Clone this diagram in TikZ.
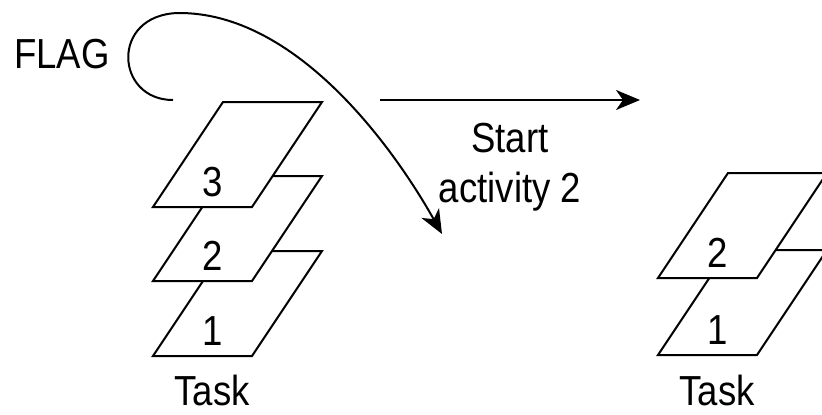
\documentclass[tikz,border=0pt]{standalone}
\usepackage{fontspec}
\setmainfont{Liberation Sans}[FakeStretch=0.87]
\usetikzlibrary{arrows.meta}
\begin{document}
\begin{tikzpicture}[x=1pt,y=-1pt,
    sheet/.style={draw, line width=2pt, fill=white},
    txt/.style={font=\fontsize{42}{50}\selectfont, inner sep=0pt, anchor=base},
    arr/.style={line width=2pt, -{Stealth[length=24pt,width=20pt,inset=7pt]}}]
  \clip (0,0) rectangle (822,415);
  % left stack of tasks
  \foreach \n/\b in {1/356, 2/281, 3/207}{
    \draw[sheet] (153,\b) -- ++(99,0) -- ++(70,-105) -- ++(-99,0) -- cycle;
    \node[txt] (l\n) at (213,\b-11) {\n};
  }
  \node[txt] (taskL) at (212,405) {Task};
  % right stack of tasks
  \foreach \n/\b in {1/355, 2/278}{
    \draw[sheet] (658,\b) -- ++(99,0) -- ++(70,-105) -- ++(-99,0) -- cycle;
    \node[txt] (r\n) at (718,\b-11) {\n};
  }
  \node[txt] (taskR) at (717,405) {Task};
  % flag
  \node[txt] (flag) at (62,68) {FLAG};
  \coordinate (flagTail) at (173,100);
  \coordinate (flagTip) at (442,234);
  \draw[arr] (flagTail) .. controls (115,100) and (110,15) .. (178,13)
    .. controls (295,12) and (392,145) .. (flagTip);
  % start activity 2
  \coordinate (go) at (380,100);
  \coordinate (goEnd) at (640,100);
  \draw[arr] (go) -- (goEnd);
  \node[txt] (start) at (510,152) {Start};
  \node[txt] (act) at (510,202) {activity 2};
\end{tikzpicture}
\end{document}
